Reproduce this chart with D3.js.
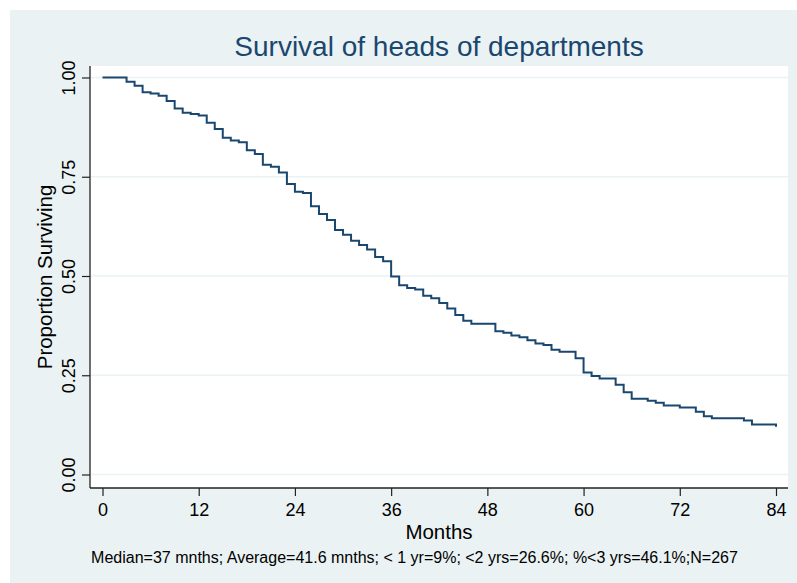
<!DOCTYPE html>
<html>
<head>
<meta charset="utf-8">
<script src="https://cdn.jsdelivr.net/npm/d3@7"></script>
<style>
  body { margin: 0; background: #fff; }
  text { font-family: "Liberation Sans", Arial, sans-serif; }
</style>
</head>
<body>
<div id="canvas"></div>
<script>
"use strict"

/* Data: month of each drop, survival after it */
let months = [0, 3, 4, 5, 6, 7, 8, 9, 10, 11, 12, 13, 14, 15, 16, 17, 18, 19, 20, 21,
    22, 23, 24, 25, 26, 27, 28, 29, 30, 31, 32, 33, 34, 35, 36, 37, 38, 39, 40, 41,
    42, 43, 44, 45, 46, 49, 50, 51, 52, 53, 54, 55, 56, 57, 59, 60, 61, 62, 64, 65,
    66, 68, 69, 70, 72, 74, 75, 76, 80, 81, 84];
let surviving = [1.000, 0.989, 0.979, 0.963, 0.960, 0.954, 0.941, 0.922, 0.911, 0.908,
    0.904, 0.886, 0.870, 0.848, 0.841, 0.837, 0.817, 0.807, 0.780, 0.775,
    0.761, 0.732, 0.712, 0.709, 0.676, 0.656, 0.641, 0.616, 0.604, 0.589,
    0.578, 0.567, 0.548, 0.537, 0.499, 0.477, 0.470, 0.466, 0.450, 0.444,
    0.432, 0.418, 0.402, 0.387, 0.380, 0.361, 0.357, 0.350, 0.346, 0.338,
    0.330, 0.326, 0.314, 0.309, 0.293, 0.257, 0.248, 0.242, 0.226, 0.207,
    0.191, 0.186, 0.181, 0.174, 0.169, 0.158, 0.147, 0.142, 0.136, 0.126, 0.120];

let xTicks = [0, 12, 24, 36, 48, 60, 72, 84];
let yTicks = [0, 0.25, 0.5, 0.75, 1];

let titleText = "Survival of heads of departments";
let xTitle = "Months";
let yTitle = "Proportion Surviving";
let noteText = "Median=37 mnths; Average=41.6 mnths; < 1 yr=9%; <2 yrs=26.6%; %<3 yrs=46.1%;N=267";

/* Drawing configuration */
let svgWidth = 797;
let svgHeight = 583;
let plot = {left: 90, right: 788, top: 66, bottom: 488};
let navy = "#1a476f";
let bgColor = "#eaf2f3";
let labelFont = "Liberation Sans, Arial, sans-serif";

let svg = d3.select("#canvas")
    .append("svg")
    .attr("width", svgWidth)
    .attr("height", svgHeight);

/* Outer graph region */
svg.append("rect")
    .attr("x", 10)
    .attr("y", 10)
    .attr("width", svgWidth - 10)
    .attr("height", svgHeight - 10)
    .attr("fill", bgColor);

/* Plot region */
svg.append("rect")
    .attr("x", plot.left)
    .attr("y", plot.top)
    .attr("width", plot.right - plot.left)
    .attr("height", plot.bottom - plot.top)
    .attr("fill", "white");

let xScale = d3.scaleLinear()
    .domain([0, 84])
    .range([102.5, 776]);

let yScale = d3.scaleLinear()
    .domain([0, 1])
    .range([474.5, 77.5]);

/* Gridlines */
svg.append("g")
    .selectAll("line")
    .data(yTicks)
    .join("line")
    .attr("x1", plot.left)
    .attr("x2", plot.right)
    .attr("y1", d => yScale(d))
    .attr("y2", d => yScale(d))
    .attr("stroke", bgColor)
    .attr("stroke-width", 1.5);

/* Axes */
let xAxis = svg.append("g")
    .attr("transform", "translate(0," + plot.bottom + ")")
    .call(d3.axisBottom(xScale).tickValues(xTicks).tickSize(8).tickPadding(7).tickSizeOuter(0));
xAxis.select(".domain").remove();
xAxis.append("line")
    .attr("x1", plot.left)
    .attr("x2", plot.right)
    .attr("stroke", "#222")
    .attr("stroke-width", 1.3);
xAxis.selectAll(".tick line").attr("stroke", "#222").attr("stroke-width", 1.2);
xAxis.selectAll(".tick text")
    .attr("fill", "#000")
    .attr("font-size", 18)
    .attr("font-family", labelFont);

let yAxis = svg.append("g")
    .attr("transform", "translate(" + plot.left + ",0)")
    .call(d3.axisLeft(yScale).tickValues(yTicks).tickSize(8).tickFormat(d3.format(".2f")));
yAxis.select(".domain").remove();
yAxis.append("line")
    .attr("y1", plot.top)
    .attr("y2", plot.bottom)
    .attr("stroke", "#222")
    .attr("stroke-width", 1.3);
yAxis.selectAll(".tick line").attr("stroke", "#222").attr("stroke-width", 1.2);
// Stata draws the y labels turned on their side
yAxis.selectAll(".tick text")
    .attr("x", null)
    .attr("dy", null)
    .attr("transform", "translate(-15,0) rotate(-90)")
    .attr("text-anchor", "middle")
    .attr("fill", "#000")
    .attr("font-size", 18)
    .attr("font-family", labelFont);

/* Survival curve as a step line */
let stepData = months.map((m, i) => ({month: m, value: surviving[i]}));
let line = d3.line()
    .x(d => xScale(d.month))
    .y(d => yScale(d.value))
    .curve(d3.curveStepAfter);

svg.append("path")
    .datum(stepData)
    .attr("fill", "none")
    .attr("stroke", navy)
    .attr("stroke-width", 2)
    .attr("d", line);

/* Titles */
svg.append("text")
    .attr("x", (plot.left + plot.right) / 2)
    .attr("y", 56)
    .attr("text-anchor", "middle")
    .attr("font-size", 28)
    .attr("fill", navy)
    .text(titleText);

svg.append("text")
    .attr("x", (plot.left + plot.right) / 2)
    .attr("y", 539)
    .attr("text-anchor", "middle")
    .attr("font-size", 20.5)
    .text(xTitle);

svg.append("text")
    .attr("transform", "translate(52," + ((plot.top + plot.bottom) / 2) + ") rotate(-90)")
    .attr("text-anchor", "middle")
    .attr("font-size", 20.5)
    .text(yTitle);

svg.append("text")
    .attr("x", 414.5)
    .attr("y", 563)
    .attr("text-anchor", "middle")
    .attr("font-size", 16)
    .text(noteText);
</script>
</body>
</html>
